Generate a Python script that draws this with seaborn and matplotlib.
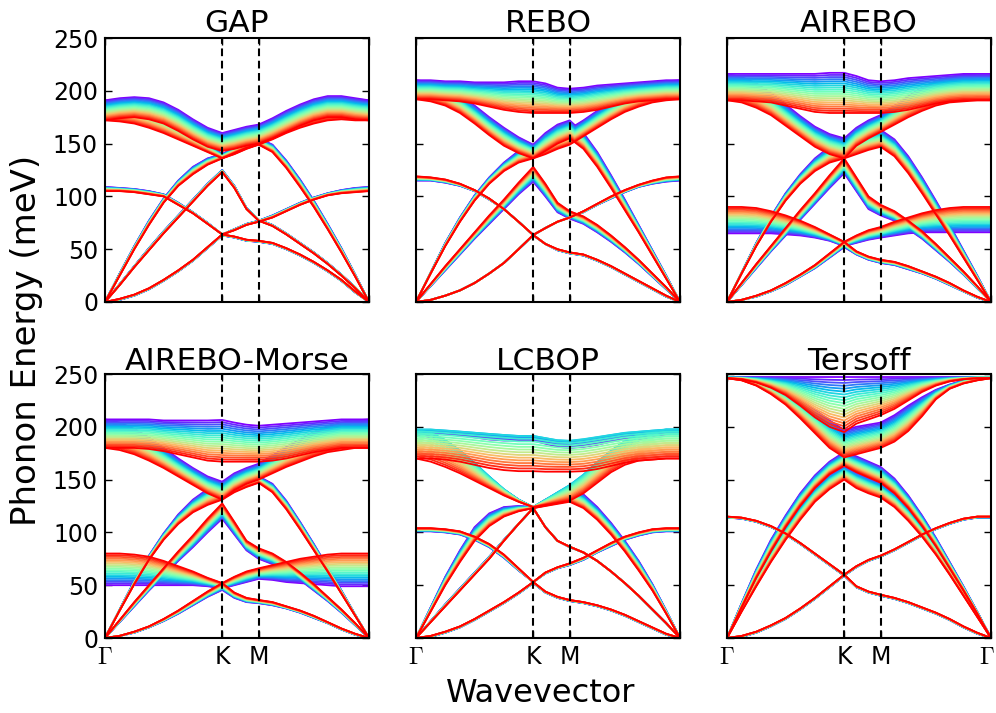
import numpy as np
import pandas as pd
import matplotlib
matplotlib.use("Agg")
import matplotlib.pyplot as plt
import matplotlib.transforms as mtransforms
import seaborn as sns

# ---------------- data ----------------
# positions along the path Gamma-K-M-Gamma (9 nodes G-K, 3 nodes K-M, 8 nodes M-G)
q_nodes = [0.0, 0.0555, 0.111, 0.1665, 0.222, 0.2775, 0.333, 0.3885, 0.444,
           0.490, 0.536, 0.582,
           0.6343, 0.6865, 0.7388, 0.791, 0.8433, 0.8955, 0.9478, 1.0]
K_POS, M_POS = 0.444, 0.582
panel_titles = ["GAP", "REBO", "AIREBO", "AIREBO-Morse", "LCBOP", "Tersoff"]
n_members = 20
member_t = list(np.linspace(0.0, 1.0, n_members))   # colour / parameter index (purple -> red)
mid_t = 0.3                                         # position of a "mid" (cyan) curve if given

# GAP  (p = purple end, r = red end)
gap_za_p = [0, 2, 6, 12, 20, 29, 39, 51, 63, 61, 58, 57, 55, 50, 44, 37, 29, 20, 9, 0]
gap_za_r = [0, 3, 7, 13, 21, 30, 40, 52, 64, 62, 59, 58, 56, 51, 45, 38, 30, 21, 10, 0]
gap_ta_p = [0, 17, 34, 51, 67, 82, 97, 112, 125, 110, 89, 78, 73, 65, 56, 47, 37, 26, 14, 0]
gap_ta_r = [0, 16, 33, 49, 65, 80, 95, 110, 123, 108, 88, 77, 72, 64, 55, 46, 36, 25, 13, 0]
gap_la_p = [0, 27, 53, 77, 98, 115, 128, 136, 140, 145, 150, 155, 149, 134, 116, 96, 74, 51, 26, 0]
gap_la_r = [0, 25, 50, 73, 94, 110, 121, 130, 136, 140, 145, 149, 142, 127, 109, 90, 69, 47, 24, 0]
gap_zo_p = [109, 108, 107, 105, 102, 94, 85, 75, 64, 69, 74, 77, 82, 88, 94, 99, 103, 106, 108, 109]
gap_zo_r = [105, 105, 104, 102, 100, 92, 84, 74, 64, 68, 73, 76, 80, 86, 92, 97, 101, 103, 104, 105]
gap_to_p = [191, 193, 194, 193, 189, 182, 173, 165, 160, 163, 166, 168, 174, 181, 187, 192, 195, 195, 193, 191]
gap_to_r = [172, 174, 175, 173, 169, 162, 154, 147, 143, 145, 148, 150, 155, 161, 167, 172, 175, 175, 173, 172]
gap_lo_p = [191, 190, 188, 184, 178, 170, 161, 150, 140, 146, 152, 156, 165, 174, 182, 188, 192, 193, 192, 191]
gap_lo_r = [172, 171, 169, 165, 160, 154, 148, 142, 136, 141, 146, 149, 154, 160, 165, 169, 172, 173, 172, 172]

# REBO
rebo_za_p = [0, 2, 6, 11, 18, 27, 37, 50, 63, 55, 49, 46, 44, 39, 33, 26, 19, 12, 5, 0]
rebo_za_r = [0, 2, 6, 11, 18, 27, 37, 50, 63.5, 55, 50, 47, 45, 40, 34, 27, 20, 13, 6, 0]
rebo_ta_p = [0, 15, 30, 45, 60, 74, 88, 102, 114, 100, 85, 79, 74, 66, 57, 47, 36, 24, 12, 0]
rebo_ta_r = [0, 17, 34, 50, 66, 82, 97, 113, 128, 112, 94, 86, 81, 73, 63, 52, 40, 27, 14, 0]
rebo_la_p = [0, 28, 56, 80, 101, 118, 132, 143, 149, 160, 168, 172, 160, 142, 120, 97, 73, 49, 25, 0]
rebo_la_r = [0, 27, 53, 76, 96, 112, 124, 132, 136, 143, 150, 155, 145, 128, 108, 87, 66, 44, 22, 0]
rebo_zo_p = [115, 115, 113, 110, 105, 97, 88, 76, 63.5, 70, 76, 80, 85, 92, 98, 104, 109, 112, 114, 115]
rebo_zo_r = [119, 118, 116, 112, 106, 98, 88, 76, 63.5, 70, 76, 80, 86, 93, 100, 106, 111, 115, 118, 119]
rebo_to_p = [210, 210, 209, 209, 208, 208, 208, 209, 209, 207, 203, 202, 203, 205, 206, 207, 208, 209, 210, 210]
rebo_to_r = [192, 192, 191, 190, 188, 185, 182, 180, 179, 179, 179, 179, 180, 182, 185, 188, 190, 191, 192, 192]
rebo_lo_p = [210, 208, 203, 196, 186, 175, 165, 156, 149, 155, 160, 164, 172, 181, 189, 196, 202, 206, 209, 210]
rebo_lo_r = [192, 190, 186, 179, 169, 158, 148, 141, 136, 140, 145, 149, 157, 165, 173, 180, 185, 189, 191, 192]

# AIREBO
air_za_p = [0, 2, 5, 10, 16, 24, 32, 42, 52, 45, 40, 37, 35, 31, 27, 22, 16, 10, 4, 0]
air_za_r = [0, 2, 6, 11, 18, 26, 35, 46, 57, 48, 43, 40, 38, 34, 29, 24, 18, 11, 5, 0]
air_ta_p = [0, 16, 32, 48, 63, 78, 93, 108, 122, 105, 88, 82, 77, 69, 60, 49, 38, 26, 13, 0]
air_ta_r = [0, 18, 36, 53, 70, 87, 103, 120, 136, 118, 100, 92, 86, 77, 67, 55, 42, 29, 15, 0]
air_la_p = [0, 28, 56, 81, 103, 121, 136, 147, 155, 158, 161, 163, 154, 138, 118, 96, 73, 49, 25, 0]
air_la_r = [0, 27, 53, 76, 96, 112, 124, 132, 136, 140, 144, 147, 138, 122, 103, 83, 63, 42, 21, 0]
air_zo_p = [65, 65, 65, 65, 64, 63, 61, 58, 53, 56, 59, 61, 63, 65, 66, 66, 66, 66, 66, 66]
air_zo_r = [90, 90, 89, 86, 82, 77, 71, 64, 57, 63, 68, 71, 76, 80, 84, 87, 89, 90, 90, 90]
air_to_p = [216, 216, 216, 216, 216, 216, 216, 217, 217, 214, 210, 209, 210, 212, 213, 214, 215, 216, 216, 216]
air_to_r = [191, 191, 190, 189, 186, 183, 180, 179, 179, 179, 179, 179, 180, 182, 185, 188, 190, 191, 191, 191]
air_lo_p = [216, 213, 207, 198, 187, 176, 166, 159, 155, 165, 172, 177, 186, 195, 203, 209, 213, 215, 216, 216]
air_lo_r = [191, 189, 184, 177, 167, 157, 147, 140, 136, 148, 155, 161, 168, 175, 181, 186, 189, 190, 191, 191]

# AIREBO-Morse
am_za_p = [0, 2, 5, 10, 16, 23, 31, 39, 45.5, 38, 34, 33, 31, 28, 24, 19, 14, 8, 3, 0]
am_za_r = [0, 2, 6, 11, 18, 26, 35, 44, 52, 43, 38, 36, 34, 30, 26, 21, 15, 9, 4, 0]
am_ta_p = [0, 15, 30, 45, 59, 73, 86, 100, 113, 98, 83, 75, 70, 63, 55, 45, 35, 24, 12, 0]
am_ta_r = [0, 17, 34, 50, 66, 82, 97, 113, 127.5, 110, 92, 85, 80, 72, 62, 51, 39, 27, 14, 0]
am_la_p = [0, 27, 54, 78, 99, 117, 131, 141, 148, 151, 152, 153, 146, 130, 110, 89, 67, 45, 22, 0]
am_la_r = [0, 26, 51, 74, 93, 108, 119, 126, 131, 138, 143, 147, 138, 122, 103, 83, 63, 42, 21, 0]
am_zo_p = [50, 50, 50, 50, 50, 50, 50, 49, 47, 50, 53, 56, 55, 53, 52, 51, 50, 49, 49, 49]
am_zo_r = [80, 80, 79, 77, 73, 68, 63, 57, 52, 58, 63, 66, 69, 72, 75, 77, 79, 80, 80, 80]
am_to_p = [207, 207, 207, 207, 206, 206, 206, 206, 206.5, 204, 202, 201, 202, 203, 204, 205, 206, 207, 207, 207]
am_to_r = [180, 180, 180, 179, 177, 174, 171, 168, 167, 167, 167, 167, 168, 170, 173, 176, 178, 180, 180, 180]
am_lo_p = [207, 204, 198, 190, 180, 170, 161, 153, 148, 156, 161, 165, 173, 181, 188, 195, 200, 204, 206, 207]
am_lo_r = [180, 178, 174, 168, 161, 153, 145, 137, 131, 140, 146, 150, 156, 162, 167, 172, 176, 178, 180, 180]

# LCBOP (m = cyan curve, which lies above the purple one in the optical bands)
lc_za_p = [0, 1, 5, 10, 17, 25, 33, 42, 52, 43, 38, 35, 33, 30, 26, 21, 15, 9, 3, 0]
lc_za_r = [0, 2, 6, 11, 18, 26, 34, 43, 53, 44, 39, 36, 34, 31, 27, 22, 16, 10, 4, 0]
lc_ta_p = [0, 16, 32, 47, 62, 77, 93, 108, 123, 105, 92, 86, 81, 73, 63, 52, 40, 27, 14, 0]
lc_ta_r = [0, 15, 30, 45, 60, 75, 92, 108, 123, 105, 92, 86.5, 81, 73, 63, 52, 40, 27, 14, 0]
lc_la_p = [0, 29, 58, 83, 105, 118, 124, 125, 124, 131, 137, 143, 136, 124, 109, 92, 73, 51, 26, 0]
lc_la_r = [0, 25, 50, 72, 92, 106, 115, 120, 123, 125, 127, 129, 123, 112, 98, 82, 64, 45, 23, 0]
lc_zo_p = [101, 101, 100, 98, 93, 86, 76, 64, 53, 61, 66, 69, 74, 81, 87, 93, 97, 100, 101, 101]
lc_zo_r = [104, 104, 103, 101, 96, 89, 79, 66, 53, 62, 67, 70.7, 76, 83, 90, 96, 100, 103, 104, 104]
lc_to_p = [193, 193, 193, 192, 190, 188, 187, 187, 187, 184, 181, 180, 181, 183, 186, 188, 190, 192, 193, 193]
lc_to_m = [198, 198, 197, 196, 195, 194, 193, 192, 192, 190, 188, 187.5, 189, 191, 193, 195, 196, 197, 198, 198]
lc_to_r = [170, 170, 169, 167, 164, 161, 159, 158, 158, 157.5, 157.5, 157.5, 158, 160, 163, 166, 168, 169, 170, 170]
lc_lo_p = [193, 190, 184, 175, 164, 152, 140, 131, 124, 130, 137, 143, 152, 163, 173, 181, 187, 191, 193, 193]
lc_lo_m = [198, 195, 188, 178, 166, 153, 141, 131, 124, 131, 138, 145, 155, 167, 178, 187, 193, 196, 198, 198]
lc_lo_r = [170, 167, 162, 156, 149, 142, 135, 129, 124, 126, 128, 130, 137, 147, 157, 164, 168, 169, 170, 170]

# Tersoff (acoustic in-plane bands form one wide ribbon)
ter_za_p = [0, 1, 5, 11, 18, 27, 37, 48, 59, 48, 43, 40, 37, 33, 28, 23, 17, 10, 4, 0]
ter_za_r = [0, 2, 6, 12, 19, 28, 38, 49, 60, 49, 44, 41, 38, 34, 29, 24, 18, 11, 5, 0]
ter_ta_p = [0, 29, 57, 82, 105, 125, 142, 155, 163, 157, 152, 147, 137, 123, 106, 87, 66, 45, 23, 0]
ter_ta_r = [0, 25, 49, 72, 93, 112, 129, 141, 150, 142, 137, 133, 124, 111, 96, 79, 60, 40, 20, 0]
ter_la_p = [0, 33, 65, 93, 116, 137, 154, 167, 176, 172, 167, 162, 151, 135, 116, 95, 72, 49, 25, 0]
ter_la_r = [0, 29, 57, 82, 105, 125, 142, 155, 163, 157, 152, 147, 137, 123, 106, 87, 66, 45, 23, 0]
ter_zo_p = [114, 113, 110, 105, 98, 89, 79, 69, 59, 67, 73, 77, 83, 90, 97, 103, 108, 112, 114, 114]
ter_zo_r = [115, 114, 111, 106, 99, 90, 80, 70, 60, 68, 74, 78, 84, 91, 98, 104, 109, 113, 115, 115]
ter_to_p = [247, 247, 247, 247, 247, 247, 247, 247, 247, 247, 247, 247, 247, 247, 247, 247, 247, 247, 247, 247]
ter_to_r = [246, 245, 242, 237, 230, 220, 209, 200, 195, 203, 207, 211, 217, 225, 233, 239, 243, 245, 246, 246]
ter_lo_p = [247, 246, 243, 239, 233, 225, 216, 206, 197, 200, 202, 204, 211, 220, 228, 235, 240, 244, 246, 247]
ter_lo_r = [246, 244, 239, 231, 221, 208, 194, 180, 171, 174, 177, 180, 186, 196, 210, 226, 236, 241, 244, 246]

panel_bands = {
    "GAP": {"ZA": (gap_za_p, gap_za_r), "TA": (gap_ta_p, gap_ta_r), "LA": (gap_la_p, gap_la_r),
            "ZO": (gap_zo_p, gap_zo_r), "TO": (gap_to_p, gap_to_r), "LO": (gap_lo_p, gap_lo_r)},
    "REBO": {"ZA": (rebo_za_p, rebo_za_r), "TA": (rebo_ta_p, rebo_ta_r), "LA": (rebo_la_p, rebo_la_r),
             "ZO": (rebo_zo_p, rebo_zo_r), "TO": (rebo_to_p, rebo_to_r), "LO": (rebo_lo_p, rebo_lo_r)},
    "AIREBO": {"ZA": (air_za_p, air_za_r), "TA": (air_ta_p, air_ta_r), "LA": (air_la_p, air_la_r),
               "ZO": (air_zo_p, air_zo_r), "TO": (air_to_p, air_to_r), "LO": (air_lo_p, air_lo_r)},
    "AIREBO-Morse": {"ZA": (am_za_p, am_za_r), "TA": (am_ta_p, am_ta_r), "LA": (am_la_p, am_la_r),
                     "ZO": (am_zo_p, am_zo_r), "TO": (am_to_p, am_to_r), "LO": (am_lo_p, am_lo_r)},
    "LCBOP": {"ZA": (lc_za_p, lc_za_r), "TA": (lc_ta_p, lc_ta_r), "LA": (lc_la_p, lc_la_r),
              "ZO": (lc_zo_p, lc_zo_r), "TO": (lc_to_p, lc_to_r, lc_to_m),
              "LO": (lc_lo_p, lc_lo_r, lc_lo_m)},
    "Tersoff": {"ZA": (ter_za_p, ter_za_r), "TA": (ter_ta_p, ter_ta_r), "LA": (ter_la_p, ter_la_r),
                "ZO": (ter_zo_p, ter_zo_r), "TO": (ter_to_p, ter_to_r), "LO": (ter_lo_p, ter_lo_r)},
}


def member_curve(spec, t):
    p = np.asarray(spec[0], float)
    r = np.asarray(spec[1], float)
    if len(spec) == 3:
        m = np.asarray(spec[2], float)
        if t <= mid_t:
            return p + (m - p) * (t / mid_t)
        return m + (r - m) * ((t - mid_t) / (1 - mid_t))
    return p + (r - p) * t


rows = []
for title, bands in panel_bands.items():
    for band, spec in bands.items():
        for k, t in enumerate(member_t):
            E = member_curve(spec, t)
            for q, e in zip(q_nodes, E):
                rows.append((title, band, k, q, e))
df = pd.DataFrame(rows, columns=["panel", "band", "member", "q", "E"])

# ---------------- figure ----------------
plt.rcParams["font.family"] = ["DejaVu Sans"]
plt.rcParams["mathtext.fontset"] = "cm"
plt.rcParams["axes.linewidth"] = 1.5

W, H = 996, 713
fig = plt.figure(figsize=(W / 100, H / 100), dpi=100)
colors = [matplotlib.cm.rainbow(t) for t in member_t]

col_left = [105, 416, 727]
row_top = [38, 374]
aw, ah = 264, 264

for i, title in enumerate(panel_titles):
    r_, c_ = divmod(i, 3)
    ax = fig.add_axes([col_left[c_] / W, 1 - (row_top[r_] + ah) / H, aw / W, ah / H])
    sub = df[df["panel"] == title]
    sns.lineplot(data=sub, x="q", y="E", hue="member", units="band", estimator=None,
                 palette=colors, legend=False, sort=False, lw=1.3, ax=ax)
    for xv in (K_POS, M_POS):
        ax.axvline(xv, color="k", ls=(0, (3.7, 2.2)), lw=1.5, zorder=5)
    ax.set_xlim(0, 1)
    ax.set_ylim(0, 250)
    ax.set_xlabel("")
    ax.set_ylabel("")
    ax.set_title(title, fontsize=22.5, pad=3)
    ax.set_yticks([0, 50, 100, 150, 200, 250])
    ax.set_xticks([0, K_POS, M_POS, 1])
    ax.tick_params(direction="in", top=True, right=True, length=5, width=1,
                   labelsize=17, pad=5)
    if c_ != 0:
        ax.set_yticklabels([])
    if r_ == 0:
        ax.set_xticklabels([])
    else:
        labs = [r"$\Gamma$", "K", "M", r"$\Gamma$" if c_ == 2 else ""]
        ax.set_xticklabels(labs)
        if c_ == 2:
            lab = ax.get_xticklabels()[-1]
            lab.set_transform(lab.get_transform() +
                              mtransforms.ScaledTranslation(-4 / 100, 0, fig.dpi_scale_trans))

fig.text(27 / W, 1 - 340 / H, "Phonon Energy (meV)", rotation=90, va="center",
         ha="center", fontsize=24.5)
fig.text(541 / W, 1 - 694 / H, "Wavevector", va="center", ha="center", fontsize=23)

fig.savefig("out.png", dpi=100)
